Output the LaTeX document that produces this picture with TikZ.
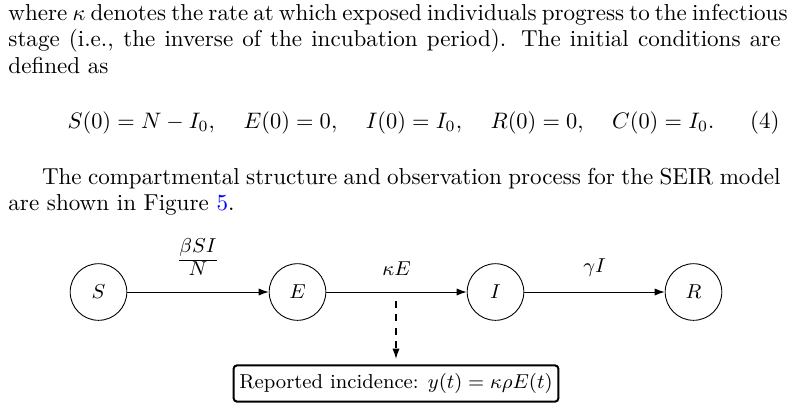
\documentclass[tikz,border=0pt]{standalone}
\usetikzlibrary{arrows.meta}
\newcommand{\bodyfont}{\fontsize{10.3}{12}\selectfont}
\newcommand{\figfont}{\fontsize{9}{11}\selectfont}
\newcommand{\fullline}[1]{\makebox[345pt][s]{#1}}
\newcommand{\eqgap}{\hspace{1.08em}}
\begin{document}
\begin{tikzpicture}[x=0.4468pt,y=-0.4468pt,
  comp/.style={circle,draw,line width=0.4pt,minimum size=25.3pt,inner sep=0pt,font=\figfont},
  flow/.style={-{Latex[length=4.5pt,width=3.2pt]},line width=0.45pt},
  lbl/.style={above=3.6pt,font=\figfont},
  obsbox/.style={draw,line width=0.9pt,rounded corners=1.5pt,inner xsep=2.6pt,inner ysep=3.6pt,font=\figfont},
  txt/.style={anchor=base west,inner sep=0pt,font=\bodyfont}]
\path[use as bounding box] (0,0) rectangle (792,411);
% text
\node[txt] (p1) at (8,20) {\parbox[t]{345pt}{%
\fullline{where $\kappa$ denotes the rate at which exposed individuals progress to the infectious}\\
\fullline{stage (i.e., the inverse of the incubation period). The initial conditions are}\\
defined as}};
\node[anchor=base,inner sep=0pt,font=\bodyfont] (eq) at (391,128) {$\displaystyle S(0) = N - I_0,\eqgap E(0)=0,\eqgap I(0)=I_0,\eqgap R(0)=0,\eqgap C(0)=I_0.$};
\node[anchor=base east,inner sep=0pt,font=\bodyfont] (eqn) at (780,128) {(4)};
\node[txt] (p2) at (8,184) {\parbox[t]{345pt}{%
\fullline{\hspace*{15pt}The compartmental structure and observation process for the SEIR model}\\
are shown in Figure~\textcolor{blue}{5}.}};
% diagram
\node[comp] (S) at (98.5,292) {$S$};
\node[comp] (E) at (297.5,292) {$E$};
\node[comp] (I) at (495.5,292) {$I$};
\node[comp] (R) at (693.5,292) {$R$};
\draw[flow] (S) -- node[lbl] (lSE) {$\frac{\displaystyle\beta SI\rule[-3pt]{0pt}{1pt}}{\displaystyle N}$} (E);
\draw[flow] (E) -- node[lbl] (lEI) {$\kappa E$} (I);
\draw[flow] (I) -- node[lbl] (lIR) {$\gamma I$} (R);
\node[obsbox] (Y) at (396,383.5) {Reported incidence: $y(t)=\kappa\rho E(t)$};
\coordinate (ks) at (396,301);
\draw[flow,dashed,shorten >=2.5pt] (ks) -- (Y);
\end{tikzpicture}
\end{document}
